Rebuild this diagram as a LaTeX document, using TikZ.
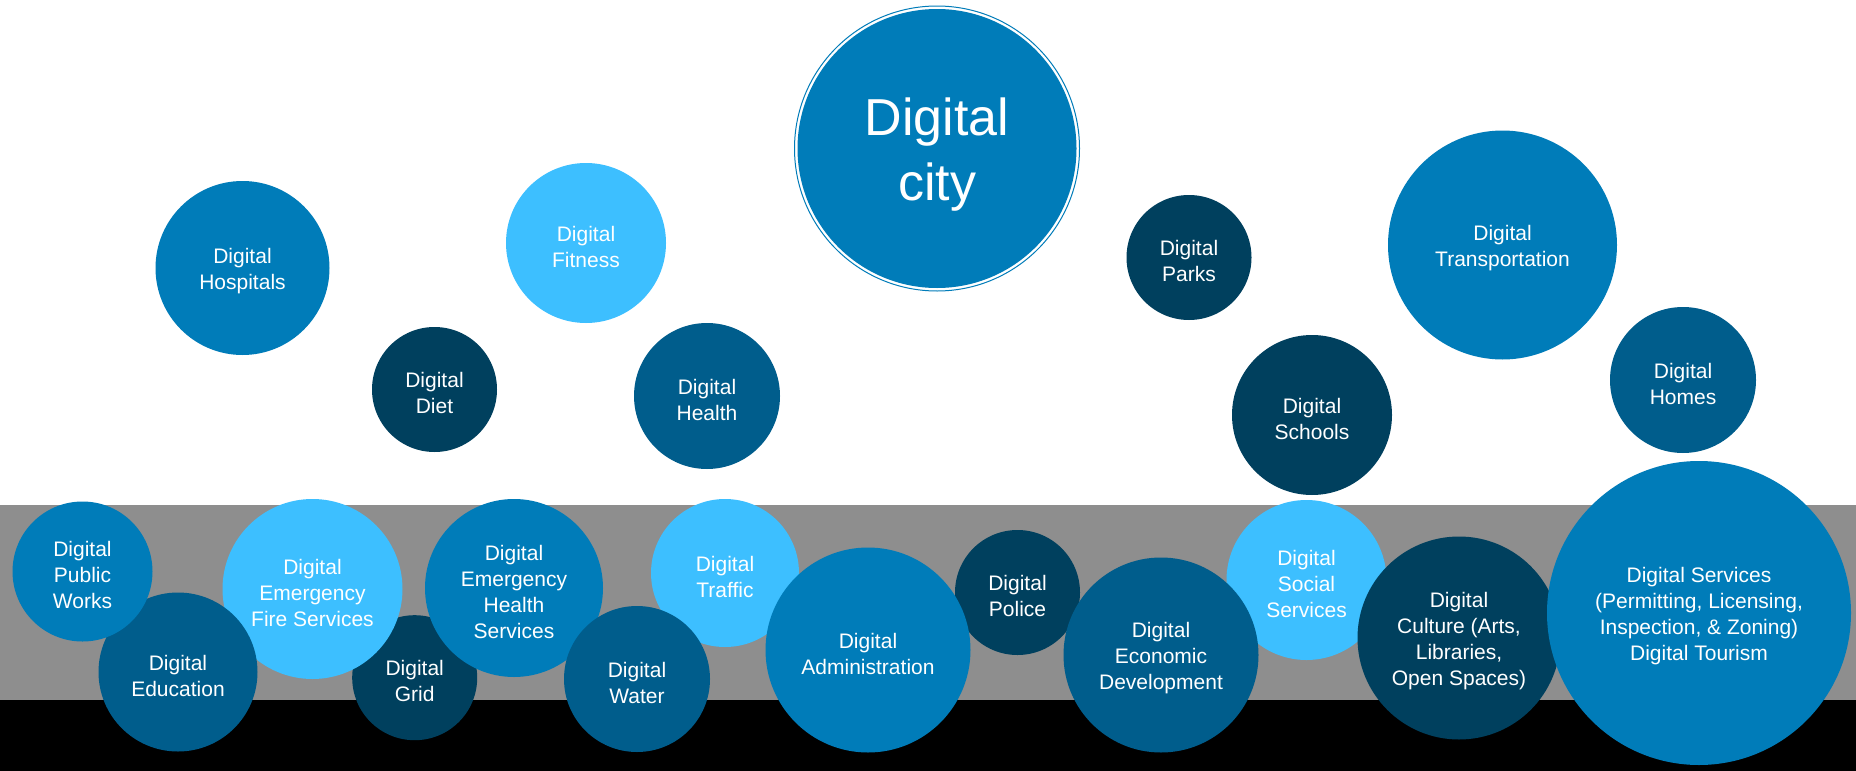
\documentclass[tikz,border=0pt]{standalone}
\usepackage{fontspec}
\setmainfont{Liberation Sans}
\definecolor{cmed}{RGB}{0,124,185}
\definecolor{clight}{RGB}{61,191,255}
\definecolor{cnavy}{RGB}{0,64,94}
\definecolor{cdeep}{RGB}{0,93,140}
\definecolor{band}{RGB}{142,142,142}
\begin{document}
\begin{tikzpicture}[x=1pt,y=-1pt,
  txt/.style={text=white,align=center,inner sep=0pt,yshift=-3.5pt,
    font=\fontsize{21}{26}\selectfont},
  bub/.style={circle,inner sep=0pt,label={[txt]center:{#1}}},
  med/.style={bub={#1},fill=cmed},
  light/.style={bub={#1},fill=clight},
  navy/.style={bub={#1},fill=cnavy},
  deep/.style={bub={#1},fill=cdeep}]
\useasboundingbox (0,0) rectangle (1856,771);
\fill[white] (0,0) rectangle (1856,771);
% ground strips
\fill[band] (0,505) rectangle (1856,700);
\fill[black] (0,700) rectangle (1856,771);

% central bubble with its outer ring
\node[circle,inner sep=0pt,fill=cmed,minimum size=279pt,
  label={[txt,yshift=-2.5pt,font=\fontsize{52}{65}\selectfont]center:{Digital\\city}}] (city) at (937,148.5) {};
\draw[cmed,line width=1pt] (city.center) circle[radius=142.5];

% upper bubbles
\node[med={Digital\\Hospitals},minimum size=174pt] (hosp) at (242.5,268) {};
\node[light={Digital\\Fitness},minimum size=160pt] (fit) at (586,243) {};
\node[navy={Digital\\Diet},minimum size=125pt] (diet) at (434.5,389.5) {};
\node[deep={Digital\\Health},minimum size=146pt] (health) at (707,396) {};
\node[navy={Digital\\Parks},minimum size=125pt] (parks) at (1189,257.5) {};
\node[med={Digital\\Transportation},minimum size=229pt] (trans) at (1502.5,245) {};
\node[navy={Digital\\Schools},minimum size=160pt] (school) at (1312,415) {};
\node[deep={Digital\\Homes},minimum size=146pt] (homes) at (1683,380) {};

% bubbles along the ground
\node[navy={Digital\\Grid},minimum size=125pt] (grid) at (414.7,677.7) {};
\node[light={Digital\\Emergency\\Fire Services},minimum size=180pt] (fire) at (312.5,589) {};
\node[deep={Digital\\Education},minimum size=159pt] (edu) at (178,672) {};
\node[med={Digital\\Public\\Works},minimum size=140pt] (pw) at (82.5,571.5) {};
\node[med={Digital\\Emergency\\Health\\Services},minimum size=178pt] (ehs) at (514,588) {};
\node[light={Digital\\Traffic},minimum size=148pt] (traffic) at (725,573) {};
\node[deep={Digital\\Water},minimum size=146pt] (water) at (637,679) {};
\node[navy={Digital\\Police},minimum size=125pt] (police) at (1017.5,592.5) {};
\node[med={Digital\\Administration},minimum size=205pt] (admin) at (868,650) {};
\node[light={Digital\\Social\\Services},minimum size=160pt] (social) at (1306.5,580) {};
\node[deep={Digital\\Economic\\Development},minimum size=195pt] (econ) at (1161,655) {};
\node[navy={Digital\\Culture (Arts,\\Libraries,\\Open Spaces)},minimum size=203pt] (culture) at (1459,638) {};
\node[med={Digital Services\\(Permitting, Licensing,\\Inspection, \& Zoning)\\Digital Tourism},minimum size=304pt] (serv) at (1699,613) {};
\end{tikzpicture}
\end{document}
